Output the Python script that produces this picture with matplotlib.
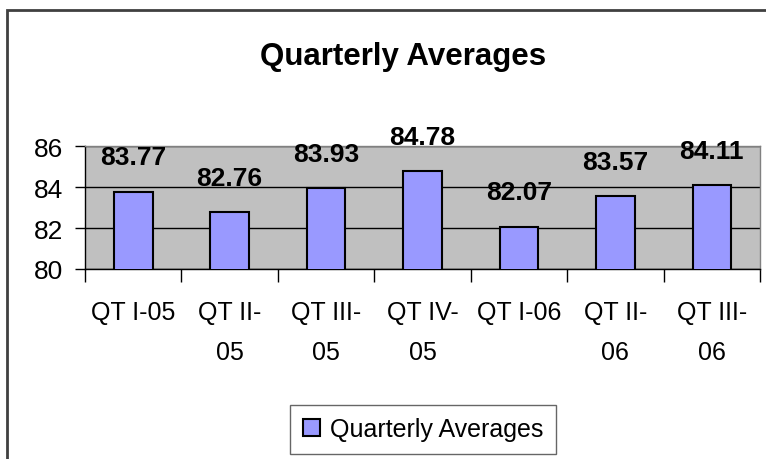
import matplotlib
matplotlib.use('Agg')
import matplotlib.pyplot as plt
from matplotlib.patches import Rectangle
import numpy as np

# data
quarters = ['QT I-05', 'QT II-\n05', 'QT III-\n05', 'QT IV-\n05', 'QT I-06', 'QT II-\n06', 'QT III-\n06']
averages = [83.77, 82.76, 83.93, 84.78, 82.07, 83.57, 84.11]

plt.rcParams['font.family'] = ['Liberation Sans', 'DejaVu Sans']

fig = plt.figure(figsize=(7.66, 4.6), dpi=100)
ax = fig.add_axes([85 / 766, 190 / 460, 675 / 766, 123 / 460])

x = np.arange(len(averages))
bars = ax.bar(x, averages, width=0.4, bottom=0, color='#9999FF',
              edgecolor='black', linewidth=1.5, label='Quarterly Averages', zorder=3)

# value labels above bars
for xi, v in zip(x, averages):
    ax.annotate(f'{v:.2f}', xy=(xi, v), xytext=(0, 16), textcoords='offset points',
                ha='center', va='bottom', fontsize=19, fontweight='bold',
                annotation_clip=False, zorder=5)

ax.set_facecolor('#C0C0C0')
ax.set_xlim(-0.5, len(averages) - 0.5)
ax.set_ylim(80, 86)
ax.set_yticks([80, 82, 84, 86])
ax.tick_params(axis='y', labelsize=19, length=7, width=1, pad=9)
ax.yaxis.grid(True, color='black', linewidth=1, zorder=1)

# category boundaries as major ticks, labels on minor ticks
ax.set_xticks(np.arange(len(averages) + 1) - 0.5)
ax.set_xticklabels([])
ax.tick_params(axis='x', which='major', length=9, width=1)
ax.set_xticks(x, minor=True)
ax.set_xticklabels(quarters, minor=True, fontsize=18, linespacing=1.85, va='top')
ax.tick_params(axis='x', which='minor', length=0, pad=22)

for s in ['top', 'right']:
    ax.spines[s].set_color('#808080')
    ax.spines[s].set_linewidth(1)
for s in ['left', 'bottom']:
    ax.spines[s].set_color('black')
    ax.spines[s].set_linewidth(1)

fig.text(403 / 766, 1 - 57 / 460, 'Quarterly Averages', ha='center', va='center',
         fontsize=22.5, fontweight='bold')

leg = fig.legend(handles=[bars], loc='center', bbox_to_anchor=(423 / 766, 1 - 430 / 460),
                 fontsize=18, frameon=True, fancybox=False, handlelength=0.7,
                 handleheight=0.7, handletextpad=0.4, borderpad=0.5)
leg.get_frame().set_edgecolor('#404040')
leg.get_frame().set_linewidth(1)

# outer chart border
fig.patches.append(Rectangle((7 / 766, -0.1), 1.2, 0.1 + (460 - 11) / 460,
                             transform=fig.transFigure, fill=False,
                             edgecolor='#404040', linewidth=2))

fig.savefig('out.png', dpi=100)
